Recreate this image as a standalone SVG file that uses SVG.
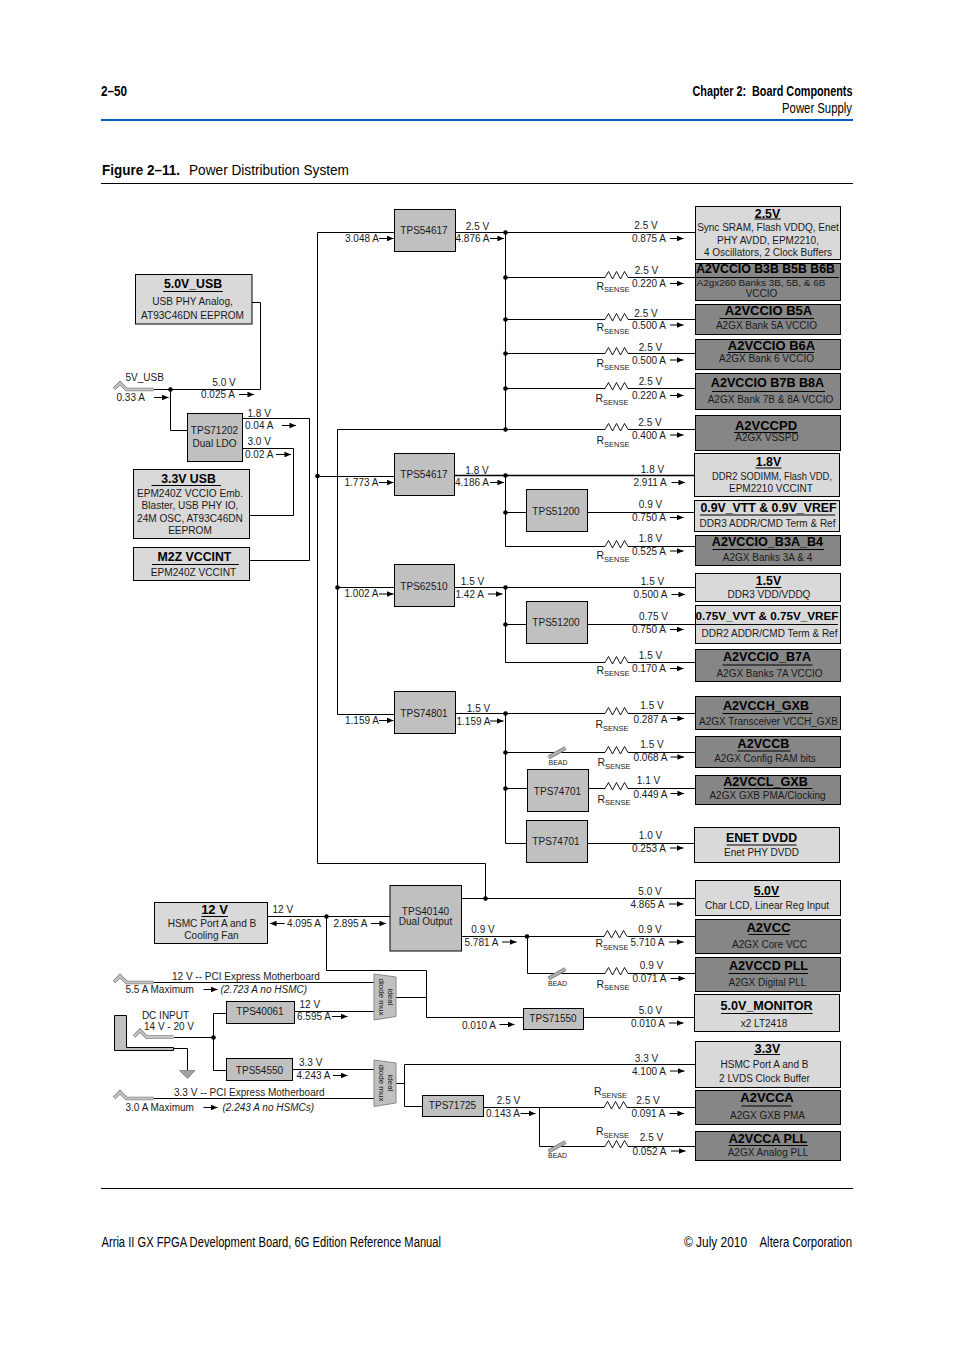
<svg xmlns="http://www.w3.org/2000/svg" width="954" height="1350" viewBox="0 0 954 1350">
<style>
text{font-family:"Liberation Sans",Arial,sans-serif;fill:#1a1a1a;font-size:10px}
.c,.h,.s,.n{text-anchor:middle}
.h{font-weight:bold;font-size:12.3px;fill:#000}
.s{font-size:10px}
.n{font-size:10px}
.lg{font-size:10.1px}
.i{font-style:italic}
.bd{font-size:7px}
.dm{font-size:8px;text-anchor:middle}
.ss{font-size:7.5px}
.rs{font-size:10.5px}
.hd{font-size:14px;fill:#000}
.hb{font-size:14px;font-weight:bold;fill:#000}
.t3{font-size:13px}
.t2{font-size:12.6px}
.bx{stroke:#000;stroke-width:1}
.lt{fill:#d9d9d9}
.md{fill:#c0c0c0}
.dk{fill:#868686}
.u{stroke:#000;stroke-width:1;fill:none}
.w{fill:none;stroke:#000;stroke-width:1}
.a{fill:none;stroke:#000;stroke-width:1;marker-end:url(#ah)}
.d{fill:#000}
.rz{fill:none;stroke:#000;stroke-width:.9}
</style>
<defs>
<marker id="ah" viewBox="0 0 7 6" refX="7" refY="3" markerUnits="userSpaceOnUse" markerWidth="7" markerHeight="5.6" orient="auto"><path d="M0 0L7 3L0 6z" fill="#000"/></marker>
<path id="res" class="rz" d="M0 0L3.5 -6L7.5 1.5L11.5 -6L15.5 1.5L19.5 -6L23 0"/>
<g id="bead"><path d="M0 5L17 -4.5" stroke="#808080" stroke-width="4.2" fill="none"/><path d="M0 5L17 -4.5" stroke="#b0b0b0" stroke-width="2.4" fill="none"/></g>
<g id="pw"><path d="M1 7L7 1L13.500 7.500H40.500" fill="none" stroke="#808080" stroke-width="3.400"/><path d="M1 7L7 1L13.500 7.500H40.500" fill="none" stroke="#c8c8c8" stroke-width="1.800"/></g>
</defs>

<g id="page-header">
<text class="hb" x="101" y="96" textLength="26" lengthAdjust="spacingAndGlyphs">2–50</text>
<text class="hb" x="692.500" y="96" textLength="160" lengthAdjust="spacingAndGlyphs">Chapter 2:&#160; Board Components</text>
<text class="hd" x="782" y="112.500" textLength="70" lengthAdjust="spacingAndGlyphs">Power Supply</text>
<path d="M101 120H853" stroke="#0060c4" stroke-width="2" fill="none"/>
<text class="hb" x="102" y="175" style="font-size:15px" textLength="78" lengthAdjust="spacingAndGlyphs">Figure 2–11.</text>
<text class="hd" x="189" y="175" style="font-size:15px" textLength="160" lengthAdjust="spacingAndGlyphs">Power Distribution System</text>
<path d="M101 183.500H853" class="w"/>
<path d="M101 1188.500H853" class="w"/>
<text class="hd" x="101.500" y="1247" textLength="339.500" lengthAdjust="spacingAndGlyphs">Arria II GX FPGA Development Board, 6G Edition Reference Manual</text>
<text class="hd" x="684" y="1247" textLength="63" lengthAdjust="spacingAndGlyphs">© July 2010</text>
<text class="hd" x="759.500" y="1247" textLength="92.500" lengthAdjust="spacingAndGlyphs">Altera Corporation</text>
</g>

<g id="connectors">
<path class="w" d="M152 389.500H260.500V302.500H252"/>
<path class="w" d="M170.500 389.500V430.500H187.500"/>
<path class="w" d="M242.500 418.500H309.500V560.500H249.500"/>
<path class="w" d="M242.500 448.500H293.500V515.500H248"/>
<path class="w" d="M394.500 232.500H317.500V863.500H485.500V898.500"/>
<path class="w" d="M317.500 476.500H394.500"/>
<path class="w" d="M337.500 429.500V714.500H394.500"/>
<path class="w" d="M337.500 587.500H394.500"/>
<path class="w" d="M337.500 429.500H605M628 429.500H695.500"/>
<path class="w" d="M455.500 232.500H695.500"/>
<path class="w" d="M505.500 232.500V429.500"/>
<path class="w" d="M505.500 277.500H605M628 277.500H696"/>
<path class="w" d="M505.500 319.500H605M628 319.500H695.500"/>
<path class="w" d="M505.500 353.500H605M628 353.500H695.500"/>
<path class="w" d="M505.500 388.500H605M628 388.500H695.500"/>
<path class="w" style="stroke-width:1.300" d="M454.500 475.500H694.500"/>
<path class="w" d="M505.500 475.500V546.500H605M628 546.500H695.500"/>
<path class="w" d="M505.500 512.500H526.500M587.500 512.500H694.500"/>
<path class="w" d="M454.500 587.500H695.500"/>
<path class="w" d="M505.500 587.500V662.500H605M628 662.500H695.500"/>
<path class="w" d="M505.500 624.500H526.500M587.500 624.500H695.500"/>
<path class="w" d="M455.500 713.500H605M628 713.500H696"/>
<path class="w" d="M505.500 713.500V843.500H526.500M587.500 843.500H694.500"/>
<path class="w" d="M505.500 752.500H605M628 752.500H696"/>
<path class="w" d="M505.500 788.500H527.500M588.500 788.500H605M628 788.500H695.500"/>
<path class="w" d="M267.500 916.500H390"/>
<path class="w" d="M326.500 916.500V970.500H426.500V1017.500H523.500"/>
<path class="w" d="M396 997.500H426.500"/>
<path class="w" d="M583.500 1017.500H694.500"/>
<path class="w" d="M461.500 898.500H695.500"/>
<path class="w" d="M461.500 936.500H604M627.500 936.500H695.500"/>
<path class="w" d="M527.500 936.500V973.500H605M628 973.500H695.500"/>
<path class="w" d="M153 982.500H374"/>
<path class="w" d="M294.500 1011.500H374"/>
<path class="w" d="M226.500 1013.500H213.500V1070.500H226.500"/>
<path class="w" d="M174 1037.500H213.500"/>
<path class="w" d="M173.500 1048.500H187.500V1070.500"/>
<path class="w" d="M292.500 1069.500H374"/>
<path class="w" d="M153 1098.500H374"/>
<path class="w" d="M396 1083.500H404.500V1064.500H695.500"/>
<path class="w" d="M404.500 1083.500V1106.500H422.500"/>
<path class="w" d="M483.500 1107.500H604M627 1107.500H695.500"/>
<path class="w" d="M539.500 1107.500V1146.500H605M628 1146.500H695.500"/>
<circle class="d" cx="170.500" cy="389.500" r="2.300"/>
<circle class="d" cx="317.500" cy="476" r="2.300"/>
<circle class="d" cx="337.500" cy="587.500" r="2.300"/>
<circle class="d" cx="505.500" cy="232.500" r="2.300"/>
<circle class="d" cx="505.500" cy="277.500" r="2.300"/>
<circle class="d" cx="505.500" cy="319.500" r="2.300"/>
<circle class="d" cx="505.500" cy="353.500" r="2.300"/>
<circle class="d" cx="505.500" cy="388.500" r="2.300"/>
<circle class="d" cx="505.500" cy="429.500" r="2.300"/>
<circle class="d" cx="505.500" cy="475.500" r="2.300"/>
<circle class="d" cx="505.500" cy="512.500" r="2.300"/>
<circle class="d" cx="505.500" cy="587.500" r="2.300"/>
<circle class="d" cx="505.500" cy="624.500" r="2.300"/>
<circle class="d" cx="505.500" cy="713.500" r="2.300"/>
<circle class="d" cx="505.500" cy="752.500" r="2.300"/>
<circle class="d" cx="505.500" cy="788.500" r="2.300"/>
<circle class="d" cx="326.500" cy="916.500" r="2.300"/>
<circle class="d" cx="485.500" cy="898.500" r="2.300"/>
<circle class="d" cx="527" cy="936.500" r="2.300"/>
<circle class="d" cx="213.500" cy="1037.500" r="2.300"/>
<use href="#res" x="605" y="277.500"/><use href="#res" x="605" y="319.500"/><use href="#res" x="605" y="353.500"/><use href="#res" x="605" y="388.500"/><use href="#res" x="605" y="429.500"/>
<use href="#res" x="605" y="546.500"/><use href="#res" x="605" y="662.500"/><use href="#res" x="605" y="713.500"/><use href="#res" x="605" y="752.500"/><use href="#res" x="605" y="788.500"/>
<use href="#res" x="604" y="936.500"/><use href="#res" x="605" y="973.500"/><use href="#res" x="604" y="1107.500"/><use href="#res" x="605" y="1146.500"/>
<use href="#bead" x="548.500" y="752.500"/><use href="#bead" x="548.500" y="973.500"/><use href="#bead" x="548.500" y="1146.500"/>
<use href="#pw" x="113" y="382"/><use href="#pw" x="113" y="975"/><use href="#pw" x="133" y="1029.500"/><use href="#pw" x="113" y="1091"/>
<path d="M114.500 1015.500H126.500V1047.500H173.500V1050.500H114.500z" fill="#c0c0c0" stroke="#000" stroke-width="1"/>
<path d="M179.500 1070.500H195L187.500 1078.500z" fill="#a0a0a0" stroke="#808080" stroke-width=".8"/>
<path class="a" d="M154 397.500H168.500"/><path class="a" d="M239 394.500H254"/><path class="a" d="M282 425.500H296"/><path class="a" d="M276 454.500H291"/>
<path class="a" d="M379 238.500H393.500"/><path class="a" d="M490 238.500H504"/><path class="a" d="M670 238.500H683.500"/><path class="a" d="M670 283.500H683.500"/><path class="a" d="M670 325H683.500"/><path class="a" d="M670 360H683.500"/><path class="a" d="M670 395.500H683.500"/><path class="a" d="M670 435H683.500"/>
<path class="a" d="M379 482.500H393.500"/><path class="a" d="M490 482.500H504"/><path class="a" d="M671.500 482.500H685"/><path class="a" d="M670 517.500H683.500"/><path class="a" d="M670 551H683.500"/>
<path class="a" d="M379 594H393.500"/><path class="a" d="M488 594H502.500"/><path class="a" d="M671.500 594.500H685"/><path class="a" d="M670 629.500H683.500"/><path class="a" d="M670 668.500H683.500"/>
<path class="a" d="M379 720.500H393.500"/><path class="a" d="M490 721H503.500"/><path class="a" d="M670.500 718.500H684"/><path class="a" d="M670.500 757H684"/><path class="a" d="M670.500 793.500H684"/><path class="a" d="M670 848H683.500"/>
<path class="a" d="M284.500 923.500H270"/><path class="a" d="M371 923.500H386"/>
<path class="a" d="M203.500 989.500H217.500"/><path class="a" d="M332 1016.500H347.500"/><path class="a" d="M333 1075.500H347.500"/><path class="a" d="M203.500 1107.500H217.500"/>
<path class="a" d="M669 904H683.500"/><path class="a" d="M502 942H516.500"/><path class="a" d="M669 942H683.500"/><path class="a" d="M670.500 978.500H685"/><path class="a" d="M669 1023H683.500"/><path class="a" d="M499.500 1024.500H514.500"/><path class="a" d="M670 1071H684.500"/><path class="a" d="M520.500 1113.500H535.500"/><path class="a" d="M669.500 1113.500H684"/><path class="a" d="M671 1151H685.500"/>
</g>

<g id="connector-labels">
<text x="125.500" y="381">5V_USB</text><text x="116.500" y="401">0.33 A</text>
<text class="c" x="224" y="386">5.0 V</text><text x="201" y="398">0.025 A</text>
<text x="247.500" y="416.500">1.8 V</text><text x="245" y="429">0.04 A</text>
<text x="247.500" y="444.500">3.0 V</text><text x="245" y="458">0.02 A</text>
<text x="345" y="242">3.048 A</text><text class="c" x="477.500" y="230">2.5 V</text><text x="455.500" y="242">4.876 A</text>
<text x="344.500" y="486">1.773 A</text><text class="c" x="477" y="474">1.8 V</text><text x="455" y="486">4.186 A</text>
<text x="344.500" y="597">1.002 A</text><text class="c" x="472.500" y="585">1.5 V</text><text x="455.500" y="597.500">1.42 A</text>
<text x="345" y="724">1.159 A</text><text class="c" x="478.500" y="712">1.5 V</text><text x="456.500" y="724.500">1.159 A</text>

<text class="c" x="646" y="228.500">2.5 V</text><text x="632" y="242">0.875 A</text>
<text class="c" x="646.500" y="274">2.5 V</text><text x="632" y="287">0.220 A</text>
<text class="c" x="646" y="317">2.5 V</text><text x="632" y="328.500">0.500 A</text>
<text class="c" x="650.500" y="351">2.5 V</text><text x="632" y="363.500">0.500 A</text>
<text class="c" x="650.500" y="385">2.5 V</text><text x="632" y="399">0.220 A</text>
<text class="c" x="650" y="426">2.5 V</text><text x="632" y="438.500">0.400 A</text>
<text class="c" x="652.500" y="472.500">1.8 V</text><text x="633.500" y="486">2.911 A</text>
<text class="c" x="650.500" y="507.500">0.9 V</text><text x="632" y="521">0.750 A</text>
<text class="c" x="650.500" y="542">1.8 V</text><text x="632" y="554.500">0.525 A</text>
<text class="c" x="652.500" y="585">1.5 V</text><text x="633.500" y="598">0.500 A</text>
<text class="c" x="653.500" y="620">0.75 V</text><text x="632" y="633">0.750 A</text>
<text class="c" x="650.500" y="658.500">1.5 V</text><text x="632" y="672">0.170 A</text>
<text class="c" x="652" y="709">1.5 V</text><text x="633.500" y="722.500">0.287 A</text>
<text class="c" x="652" y="748">1.5 V</text><text x="633.500" y="760.500">0.068 A</text>
<text class="c" x="648.500" y="784">1.1 V</text><text x="633.500" y="797.500">0.449 A</text>
<text class="c" x="650.500" y="839">1.0 V</text><text x="632" y="852">0.253 A</text>

<text x="272.500" y="913">12 V</text><text x="287" y="927">4.095 A</text><text x="333.500" y="927">2.895 A</text>
<text x="172" y="980">12 V -- PCI Express Motherboard</text>
<text x="125.500" y="993">5.5 A Maximum</text><text class="i" x="220.500" y="993">(2.723 A no HSMC)</text>
<text x="299.500" y="1008">12 V</text><text x="297" y="1020">6.595 A</text>
<text class="c" x="165.500" y="1019">DC INPUT</text><text class="c" x="169" y="1029.500">14 V - 20 V</text>
<text x="299" y="1066">3.3 V</text><text x="296.500" y="1079">4.243 A</text>
<text x="174" y="1095.500">3.3 V -- PCI Express Motherboard</text>
<text x="125.500" y="1111">3.0 A Maximum</text><text class="i" x="222.500" y="1111">(2.243 A no HSMCs)</text>
<text class="c" x="650" y="895">5.0 V</text><text x="630.500" y="908">4.865 A</text>
<text class="c" x="483" y="932.500">0.9 V</text><text x="464.500" y="946">5.781 A</text>
<text class="c" x="650" y="932.500">0.9 V</text><text x="630.500" y="946">5.710 A</text>
<text class="c" x="651.500" y="969">0.9 V</text><text x="632.500" y="982">0.071 A</text>
<text class="c" x="650.500" y="1014">5.0 V</text><text x="631" y="1027">0.010 A</text>
<text x="462" y="1028.500">0.010 A</text>
<text class="c" x="646.500" y="1061.500">3.3 V</text><text x="632" y="1074.500">4.100 A</text>
<text class="c" x="508.500" y="1103.500">2.5 V</text><text x="486" y="1117">0.143 A</text>
<text class="c" x="648" y="1103.500">2.5 V</text><text x="631.500" y="1117">0.091 A</text>
<text class="c" x="651.500" y="1141">2.5 V</text><text x="632.500" y="1154.500">0.052 A</text>

<text class="rs" x="596.500" y="289.500">R<tspan class="ss" dy="2.500">SENSE</tspan></text>
<text class="rs" x="596.500" y="331">R<tspan class="ss" dy="2.500">SENSE</tspan></text>
<text class="rs" x="596.500" y="367">R<tspan class="ss" dy="2.500">SENSE</tspan></text>
<text class="rs" x="595.500" y="402">R<tspan class="ss" dy="2.500">SENSE</tspan></text>
<text class="rs" x="596.500" y="444">R<tspan class="ss" dy="2.500">SENSE</tspan></text>
<text class="rs" x="596.500" y="559">R<tspan class="ss" dy="2.500">SENSE</tspan></text>
<text class="rs" x="596.500" y="673.500">R<tspan class="ss" dy="2.500">SENSE</tspan></text>
<text class="rs" x="595.500" y="728">R<tspan class="ss" dy="2.500">SENSE</tspan></text>
<text class="rs" x="597.500" y="766">R<tspan class="ss" dy="2.500">SENSE</tspan></text>
<text class="rs" x="597.500" y="802.500">R<tspan class="ss" dy="2.500">SENSE</tspan></text>
<text class="rs" x="595.500" y="947">R<tspan class="ss" dy="2.500">SENSE</tspan></text>
<text class="rs" x="596.500" y="987.500">R<tspan class="ss" dy="2.500">SENSE</tspan></text>
<text class="rs" x="594" y="1095">R<tspan class="ss" dy="2.500">SENSE</tspan></text>
<text class="rs" x="596" y="1135">R<tspan class="ss" dy="2.500">SENSE</tspan></text>
<text class="bd" x="548.500" y="764.500">BEAD</text><text class="bd" x="548" y="986">BEAD</text><text class="bd" x="548" y="1157.500">BEAD</text>
</g>

<g id="regulators">
<g id="tps54617-a"><rect class="bx md" x="394.500" y="209.500" width="61" height="42"/><text class="n" x="424" y="234">TPS54617</text></g>
<g id="tps71202"><rect class="bx md" x="187.500" y="413.500" width="55" height="48"/><text class="n" x="214.500" y="434">TPS71202</text><text class="n" x="214.500" y="447">Dual LDO</text></g>
<g id="tps54617-b"><rect class="bx md" x="394.500" y="453.500" width="60" height="42"/><text class="n" x="424" y="478">TPS54617</text></g>
<g id="tps62510"><rect class="bx md" x="394.500" y="564.500" width="60" height="42"/><text class="n" x="424" y="590">TPS62510</text></g>
<g id="tps74801"><rect class="bx md" x="394.500" y="691.500" width="61" height="42"/><text class="n" x="424" y="717">TPS74801</text></g>
<g id="tps51200-a"><rect class="bx md" x="526.500" y="489.500" width="61" height="42"/><text class="n" x="556" y="515">TPS51200</text></g>
<g id="tps51200-b"><rect class="bx md" x="526.500" y="601.500" width="61" height="42"/><text class="n" x="556" y="626">TPS51200</text></g>
<g id="tps74701-a"><rect class="bx md" x="527.500" y="769.500" width="61" height="42"/><text class="n" x="557.500" y="794.500">TPS74701</text></g>
<g id="tps74701-b"><rect class="bx md" x="526.500" y="820.500" width="61" height="42"/><text class="n" x="556" y="844.500">TPS74701</text></g>
<g id="tps40140"><rect class="bx md" x="390" y="885.500" width="71.500" height="65.500"/><text class="n" x="425.500" y="914.500">TPS40140</text><text class="n" x="425.500" y="925">Dual Output</text></g>
<g id="tps40061"><rect class="bx md" x="226.500" y="1001.500" width="68" height="22"/><text class="n" x="260" y="1014.500">TPS40061</text></g>
<g id="tps54550"><rect class="bx md" x="226.500" y="1058.500" width="66" height="22"/><text class="n" x="259.500" y="1073.500">TPS54550</text></g>
<g id="tps71550"><rect class="bx md" x="523.500" y="1008.500" width="60" height="21"/><text class="n" x="553" y="1022">TPS71550</text></g>
<g id="tps71725"><rect class="bx md" x="422.500" y="1095.500" width="61" height="21"/><text class="n" x="452.500" y="1109">TPS71725</text></g>
<g id="mux-a"><path d="M374 974L396 977V1016.500L374 1020z" fill="#c0c0c0" stroke="#8a8a8a"/><text class="dm" transform="translate(379 997) rotate(90)">diode mux</text><text class="dm" transform="translate(388 997) rotate(90)">ideal</text></g>
<g id="mux-b"><path d="M374 1060L396 1063V1103L374 1106.500z" fill="#c0c0c0" stroke="#8a8a8a"/><text class="dm" transform="translate(379 1083) rotate(90)">diode mux</text><text class="dm" transform="translate(388 1083) rotate(90)">ideal</text></g>
</g>

<g id="loads">
<g id="l-5v-usb"><rect class="bx lt" x="135.500" y="274.500" width="116.500" height="49.500"/><text class="h" x="193" y="287.500">5.0V_USB</text><path class="u" d="M163 291.500H223"/><text class="s lg" x="192.500" y="305">USB PHY Analog,</text><text class="s lg" x="192.500" y="319">AT93C46DN EEPROM</text></g>
<g id="l-3v3-usb"><rect class="bx lt" x="133.500" y="469.500" width="116" height="69"/><text class="h" x="188.500" y="483">3.3V USB</text><path class="u" d="M151.500 485.500H221"/><text class="s lg" x="190" y="497">EPM240Z VCCIO Emb.</text><text class="s lg" x="190" y="509">Blaster, USB PHY IO,</text><text class="s lg" x="190" y="522">24M OSC, AT93C46DN</text><text class="s lg" x="190" y="534">EEPROM</text></g>
<g id="l-m2z"><rect class="bx lt" x="133.500" y="547.500" width="116" height="33"/><text class="h" x="194.500" y="561">M2Z VCCINT</text><path class="u" d="M152 564.500H239"/><text class="s lg" x="193.500" y="576">EPM240Z VCCINT</text></g>
<g id="l-2v5"><rect class="bx lt" x="695.500" y="206.500" width="145" height="53"/><text class="h" x="767.500" y="217.500">2.5V</text><path class="u" d="M754.500 219H781"/><text class="s" x="768" y="230.500">Sync SRAM, Flash VDDQ, Enet</text><text class="s" x="768" y="243.500">PHY AVDD, EPM2210,</text><text class="s" x="768" y="256">4 Oscillators, 2 Clock Buffers</text></g>
<g id="l-b3b"><rect class="bx dk" x="695.500" y="263.500" width="145" height="37"/><text class="h" x="765.500" y="272.500">A2VCCIO B3B B5B B6B</text><path class="u" d="M696 277.500H839"/><text class="s" x="761" y="286" style="font-size:9.9px">A2gx260 Banks 3B, 5B, &amp; 6B</text><text class="s" x="761.500" y="297">VCCIO</text></g>
<g id="l-b5a"><rect class="bx dk" x="695.500" y="304.500" width="145" height="30"/><text class="h t3" x="768.500" y="315">A2VCCIO B5A</text><path class="u" d="M719.500 318.500H814"/><text class="s" x="766.500" y="328.500">A2GX Bank 5A VCCIO</text></g>
<g id="l-b6a"><rect class="bx dk" x="695.500" y="339.500" width="145" height="30"/><text class="h t3" x="771.500" y="350">A2VCCIO B6A</text><path class="u" d="M728 352.500H814"/><text class="s" x="766.500" y="362">A2GX Bank 6 VCCIO</text></g>
<g id="l-b7b"><rect class="bx dk" x="695.500" y="373.500" width="145" height="36"/><text class="h t2" x="767.500" y="387">A2VCCIO B7B B8A</text><path class="u" d="M712 391.500H825"/><text class="s" x="770.500" y="403">A2GX Bank 7B &amp; 8A VCCIO</text></g>
<g id="l-vccpd"><rect class="bx dk" x="695.500" y="415.500" width="145" height="35"/><text class="h t3" x="766" y="429.500">A2VCCPD</text><path class="u" d="M734 432.500H798"/><text class="s" x="767" y="441">A2GX VSSPD</text></g>
<g id="l-1v8"><rect class="bx lt" x="694.500" y="453.500" width="145" height="43"/><text class="h" x="768.500" y="466">1.8V</text><path class="u" d="M755.500 468H781.500"/><text class="s" x="772" y="479.500" textLength="120" lengthAdjust="spacingAndGlyphs">DDR2 SODIMM, Flash VDD,</text><text class="s" x="771" y="492">EPM2210 VCCINT</text></g>
<g id="l-0v9vtt"><rect class="bx lt" x="694.500" y="500.500" width="145" height="31"/><text class="h" x="768.500" y="511.500">0.9V_VTT &amp; 0.9V_VREF</text><path class="u" d="M700 515H835"/><text class="s" x="767.500" y="527">DDR3 ADDR/CMD Term &amp; Ref</text></g>
<g id="l-b3a"><rect class="bx dk" x="695.500" y="535.500" width="145" height="30"/><text class="h t2" x="767.500" y="545.500">A2VCCIO_B3A_B4</text><path class="u" d="M712.500 549.500H824"/><text class="s" x="767.500" y="561">A2GX Banks 3A &amp; 4</text></g>
<g id="l-1v5"><rect class="bx lt" x="695.500" y="573.500" width="145" height="28"/><text class="h" x="768.500" y="585">1.5V</text><path class="u" d="M755.500 587.500H781.500"/><text class="s" x="769" y="598">DDR3 VDD/VDDQ</text></g>
<g id="l-0v75"><rect class="bx lt" x="695.500" y="605.500" width="145" height="38"/><text class="h" x="767" y="620" style="font-size:11.7px">0.75V_VVT &amp; 0.75V_VREF</text><path class="u" d="M695.500 624.500H838"/><text class="s" x="769.500" y="637">DDR2 ADDR/CMD Term &amp; Ref</text></g>
<g id="l-b7a"><rect class="bx dk" x="695.500" y="649.500" width="145" height="32"/><text class="h t2" x="767" y="661">A2VCCIO_B7A</text><path class="u" d="M722.500 665H812.500"/><text class="s" x="769.500" y="677">A2GX Banks 7A VCCIO</text></g>
<g id="l-vcch"><rect class="bx dk" x="695.500" y="696.500" width="145" height="33"/><text class="h t2" x="766" y="709.500">A2VCCH_GXB</text><path class="u" d="M722.500 713.500H812.500"/><text class="s" x="768.500" y="724.500">A2GX Transceiver VCCH_GXB</text></g>
<g id="l-vccb"><rect class="bx dk" x="695.500" y="736.500" width="145" height="31"/><text class="h t2" x="763.500" y="748">A2VCCB</text><path class="u" d="M737.500 751H790.500"/><text class="s" x="765" y="762">A2GX Config RAM bits</text></g>
<g id="l-vccl"><rect class="bx dk" x="695.500" y="775.500" width="145" height="29"/><text class="h t2" x="765.500" y="786">A2VCCL_GXB</text><path class="u" d="M724 788.500H812.500"/><text class="s" x="767.500" y="798.500">A2GX GXB PMA/Clocking</text></g>
<g id="l-enet"><rect class="bx lt" x="694.500" y="827.500" width="145" height="35"/><text class="h" x="761.500" y="841.500">ENET DVDD</text><path class="u" d="M726.500 845H796.500"/><text class="s" x="761.500" y="855.500">Enet PHY DVDD</text></g>
<g id="l-12v"><rect class="bx lt" x="154.500" y="902.500" width="113" height="41"/><text class="h t3" x="214.500" y="913.500">12 V</text><path class="u" d="M201.500 916.500H228"/><text class="s lg" x="212" y="927">HSMC Port A and B</text><text class="s lg" x="211.500" y="939">Cooling Fan</text></g>
<g id="l-5v"><rect class="bx lt" x="695.500" y="880.500" width="145" height="35"/><text class="h" x="766.500" y="895">5.0V</text><path class="u" d="M754 896.500H779.500"/><text class="s" x="767" y="909">Char LCD, Linear Reg Input</text></g>
<g id="l-vcc"><rect class="bx dk" x="695.500" y="919.500" width="145" height="34"/><text class="h t3" x="768.500" y="932">A2VCC</text><path class="u" d="M748.500 934.500H789.500"/><text class="s" x="769.500" y="948">A2GX Core VCC</text></g>
<g id="l-vccd"><rect class="bx dk" x="695.500" y="957.500" width="145" height="34"/><text class="h t2" x="768.500" y="970">A2VCCD PLL</text><path class="u" d="M728.500 973.500H808"/><text class="s" x="767.500" y="986">A2GX Digital PLL</text></g>
<g id="l-mon"><rect class="bx lt" x="694.500" y="994.500" width="145" height="37"/><text class="h t2" x="766.500" y="1010">5.0V_MONITOR</text><path class="u" d="M721 1013.500H812.500"/><text class="s" x="764" y="1026.500">x2 LT2418</text></g>
<g id="l-3v3"><rect class="bx lt" x="695.500" y="1041.500" width="145" height="46"/><text class="h" x="767.500" y="1052.500">3.3V</text><path class="u" d="M754 1054.500H780"/><text class="s" x="764.500" y="1067.500">HSMC Port A and B</text><text class="s" x="764.500" y="1082">2 LVDS Clock Buffer</text></g>
<g id="l-vcca"><rect class="bx dk" x="695.500" y="1090.500" width="145" height="34"/><text class="h t3" x="767" y="1102">A2VCCA</text><path class="u" d="M741.500 1106H791.500"/><text class="s" x="767.500" y="1119">A2GX GXB PMA</text></g>
<g id="l-vcca-pll"><rect class="bx dk" x="695.500" y="1131.500" width="145" height="29"/><text class="h t2" x="768" y="1143">A2VCCA PLL</text><path class="u" d="M728.500 1145.500H807.500"/><text class="s" x="768" y="1156">A2GX Analog PLL</text></g>
</g>
</svg>
